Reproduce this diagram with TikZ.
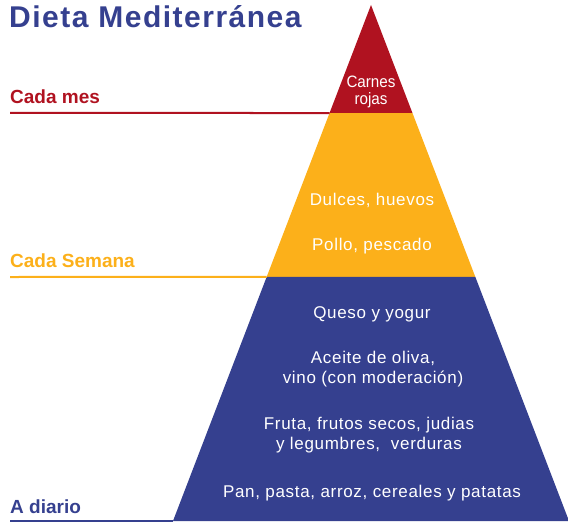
\documentclass[tikz,border=0pt]{standalone}
\usepackage{fontspec}
\setmainfont{Liberation Sans}
\newfontfamily\titlefont[LetterSpace=5]{Liberation Sans}
\newfontfamily\pyrfont[LetterSpace=4]{Liberation Sans}
\newfontfamily\condfont[FakeStretch=0.92]{Liberation Sans}
\usetikzlibrary{calc, positioning}
\definecolor{medblue}{RGB}{53,64,143}
\definecolor{medred}{RGB}{176,18,32}
\definecolor{medyellow}{RGB}{252,176,26}

\tikzset{
	food/.style={text=white, align=center, anchor=base, inner sep=0pt,
		font=\pyrfont\fontsize{17}{20}\selectfont},
	foodnarrow/.style={food, font=\condfont\fontsize{16.5}{17}\selectfont},
	freq/.style={inner sep=0pt, font=\bfseries\fontsize{19}{22}\selectfont},
	rule/.style={line width=2pt}
}

\begin{document}
\begin{tikzpicture}[x=1pt, y=-1pt]
		\useasboundingbox (0,0) rectangle (568,524);
		% pyramid corners and band limits
		\coordinate (apex) at (371,5);
		\coordinate (bl) at (173,521);
		\coordinate (br) at (569,521);
		\coordinate (mesL) at ($(apex)!0.2093!(bl)$);
		\coordinate (mesR) at ($(apex)!0.2093!(br)$);
		\coordinate (semL) at ($(apex)!0.5271!(bl)$);
		\coordinate (semR) at ($(apex)!0.5271!(br)$);
		
		% bands
		\fill[medred] (apex) -- (mesR) -- (mesL) -- cycle;
		\fill[medyellow] (mesL) -- (mesR) -- (semR) -- (semL) -- cycle;
		\fill[medblue] (semL) -- (semR) -- (br) -- (bl) -- cycle;
		
		% title
		\node[anchor=base west, inner sep=0pt, text=medblue,
			font=\titlefont\bfseries\fontsize{30}{34}\selectfont] (title) at (9,28) {Dieta Mediterránea};
		
		% frequency rules and labels
		\coordinate (mes0) at (10,113);
		\coordinate (sem0) at (10,277);
		\coordinate (dia0) at (10,521);
		\draw[rule, medred] (mes0) -- (mesL);
		\draw[rule, medyellow] (sem0) -- (semL);
		\draw[rule, medblue] (dia0) -- (bl);
		\node[freq, text=medred, above=9pt of mes0, anchor=base west] (mes) {Cada mes};
		\node[freq, text=medyellow, above=10pt of sem0, anchor=base west] (semana) {Cada Semana};
		\node[freq, text=medblue, above=8pt of dia0, anchor=base west] (diario) {A diario};
		
		% foods (base = last line)
		\node[foodnarrow] (carnes) at (371,105) {Carnes\\rojas};
		\node[food] (dulces) at (372,206) {Dulces, huevos};
		\node[food] (pollo) at (372,250) {Pollo, pescado};
		\node[food] (queso) at (372,318) {Queso y yogur};
		\node[food] (aceite) at (373,383) {Aceite de oliva,\\vino (con moderación)};
		\node[food] (fruta) at (369,449) {Fruta, frutos secos, judias\\y legumbres,\ \ verduras};
		\node[food] (pan) at (372,497) {Pan, pasta, arroz, cereales y patatas};
\end{tikzpicture}
\end{document}
